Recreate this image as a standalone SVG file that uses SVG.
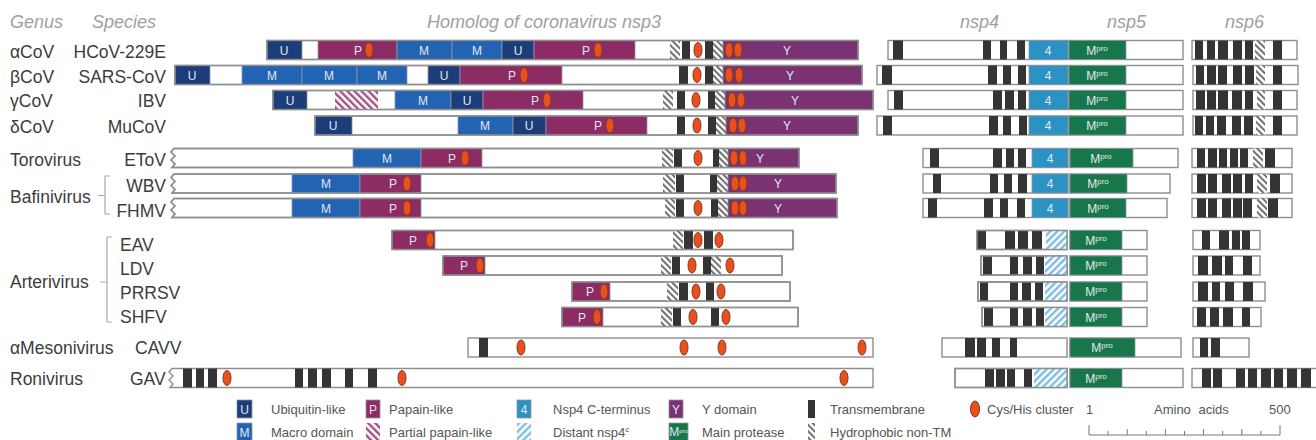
<svg xmlns="http://www.w3.org/2000/svg" width="1316" height="440" viewBox="0 0 1316 440">
<defs>
<pattern id="hg" width="4.5" height="4.5" patternUnits="userSpaceOnUse" patternTransform="rotate(-45)"><rect width="4.5" height="4.5" fill="#fff"/><rect width="2" height="4.5" fill="#6e6e6e"/></pattern>
<pattern id="hp" width="5" height="5" patternUnits="userSpaceOnUse" patternTransform="rotate(-45)"><rect width="5" height="5" fill="#fff"/><rect width="2.4" height="5" fill="#a64d80"/></pattern>
<pattern id="hb" width="5" height="5" patternUnits="userSpaceOnUse" patternTransform="rotate(45)"><rect width="5" height="5" fill="#fff"/><rect width="2.4" height="5" fill="#7dbce2"/></pattern>
</defs>
<style>
.bar{fill:#fff;stroke:#8e8e8e;stroke-width:1.4}
.ol{fill:none;stroke:#8e8e8e;stroke-width:1.4}
.d{stroke:#8f95a3;stroke-width:.8}
.U{fill:#1c3d7a}.M{fill:#2264b3}.P{fill:#8c2b64}.Y{fill:#7a3273}.F{fill:#2b93c4}.G{fill:#17774a}
.tm{fill:#343434}.hg{fill:url(#hg)}.hp{fill:url(#hp)}.hb{fill:url(#hb)}
.cy{fill:#ea4f1c;stroke:#7d3b22;stroke-width:1}
.dl{font-family:"Liberation Sans",Arial,sans-serif;font-size:12px;fill:#e4e7f0;text-anchor:middle}
.lab{font-family:"Liberation Sans",Arial,sans-serif;font-size:17.5px;fill:#3c3c3c}
.sp{text-anchor:end}
.hdr{font-family:"Liberation Sans",Arial,sans-serif;font-size:18px;font-style:italic;fill:#a0a0a0}
.leg{font-family:"Liberation Sans",Arial,sans-serif;font-size:13px;fill:#555}
.br{fill:none;stroke:#aaa;stroke-width:1.2}
</style>

<g id="headers">
<text class="hdr" x="10" y="28">Genus</text>
<text class="hdr" x="92" y="28">Species</text>
<text class="hdr" x="427" y="28">Homolog of coronavirus nsp3</text>
<text class="hdr" x="960" y="28">nsp4</text>
<text class="hdr" x="1107" y="28">nsp5</text>
<text class="hdr" x="1225" y="28">nsp6</text>
</g>

<g id="labels">
<text class="lab" x="10" y="58">αCoV</text><text class="lab sp" x="166" y="58">HCoV-229E</text>
<text class="lab" x="10" y="83">βCoV</text><text class="lab sp" x="166" y="83">SARS-CoV</text>
<text class="lab" x="10" y="107">γCoV</text><text class="lab sp" x="166" y="107">IBV</text>
<text class="lab" x="10" y="133">δCoV</text><text class="lab sp" x="166" y="133">MuCoV</text>
<text class="lab" x="10" y="166">Torovirus</text><text class="lab sp" x="166" y="166">EToV</text>
<text class="lab" x="10" y="203">Bafinivirus</text>
<text class="lab sp" x="166" y="192">WBV</text>
<text class="lab sp" x="166" y="217">FHMV</text>
<text class="lab" x="10" y="288">Arterivirus</text>
<text class="lab" x="120" y="251">EAV</text>
<text class="lab" x="120" y="275">LDV</text>
<text class="lab" x="120" y="299">PRRSV</text>
<text class="lab" x="120" y="323">SHFV</text>
<text class="lab" x="10" y="354">αMesonivirus</text><text class="lab" x="135" y="354">CAVV</text>
<text class="lab" x="10" y="385">Ronivirus</text><text class="lab" x="130" y="385">GAV</text>
</g>

<g id="connectors">
<path class="br" d="M110,176 H105 V214 H110 M98,195.5 H105"/>
<path class="br" d="M112,237 H107 V322 H112 M100,282 H107"/>
</g>

<g id="r-acov">
<rect class="bar" x="267" y="40.5" width="591" height="19"/>
<rect class="d U" x="267" y="40.5" width="35" height="19"/>
<rect class="d P" x="318" y="40.5" width="79" height="19"/>
<rect class="d M" x="397" y="40.5" width="55" height="19"/>
<rect class="d M" x="452" y="40.5" width="50" height="19"/>
<rect class="d U" x="502" y="40.5" width="32" height="19"/>
<rect class="d P" x="534" y="40.5" width="101" height="19"/>
<rect class="hg" x="670" y="40.5" width="10" height="19"/>
<rect class="tm" x="682" y="40.5" width="8" height="19"/>
<rect class="tm" x="705" y="40.5" width="8" height="19"/>
<rect class="hg" x="713" y="40.5" width="10" height="19"/>
<rect class="d Y" x="723" y="40.5" width="135" height="19"/>
<rect class="ol" x="267" y="40.5" width="591" height="19"/>
<ellipse class="cy" cx="369" cy="50" rx="4" ry="7.5"/><ellipse class="cy" cx="598" cy="50" rx="4" ry="7.5"/><ellipse class="cy" cx="698" cy="50" rx="4" ry="7.5"/><ellipse class="cy" cx="729" cy="50" rx="4" ry="7.5"/><ellipse class="cy" cx="738" cy="50" rx="4" ry="7.5"/>
<text class="dl" x="284" y="54.5">U</text><text class="dl" x="358" y="54.5">P</text><text class="dl" x="424" y="54.5">M</text><text class="dl" x="477" y="54.5">M</text><text class="dl" x="518" y="54.5">U</text><text class="dl" x="586" y="54.5">P</text><text class="dl" x="787" y="54.5">Y</text>
<rect class="bar" x="888" y="40.5" width="180" height="19"/>
<rect class="tm" x="893" y="40.5" width="10" height="19"/><rect class="tm" x="983" y="40.5" width="8" height="19"/><rect class="tm" x="1000" y="40.5" width="7" height="19"/><rect class="tm" x="1017" y="40.5" width="8" height="19"/>
<rect class="d F" x="1029" y="40.5" width="39" height="19"/><text class="dl" x="1048" y="54.5">4</text>
<rect class="bar" x="1069" y="40.5" width="114" height="19"/>
<rect class="d G" x="1069" y="40.5" width="57" height="19"/><text class="dl" x="1097" y="54.5">M<tspan font-size="8" dy="-4">pro</tspan></text>
<rect class="bar" x="1192" y="40.5" width="105" height="19"/>
<rect class="tm" x="1195" y="40.5" width="8" height="19"/><rect class="tm" x="1207" y="40.5" width="8" height="19"/><rect class="tm" x="1218" y="40.5" width="10" height="19"/><rect class="tm" x="1233" y="40.5" width="9" height="19"/><rect class="tm" x="1245" y="40.5" width="8" height="19"/><rect class="hg" x="1255" y="40.5" width="10" height="19"/><rect class="tm" x="1273" y="40.5" width="9" height="19"/>
</g>

<g id="r-bcov">
<rect class="bar" x="175" y="65.5" width="687" height="19"/>
<rect class="d U" x="175" y="65.5" width="35" height="19"/>
<rect class="d M" x="242" y="65.5" width="60" height="19"/>
<rect class="d M" x="302" y="65.5" width="55" height="19"/>
<rect class="d M" x="357" y="65.5" width="50" height="19"/>
<rect class="d U" x="428" y="65.5" width="32" height="19"/>
<rect class="d P" x="460" y="65.5" width="102" height="19"/>
<rect class="tm" x="679" y="65.5" width="9" height="19"/>
<rect class="tm" x="705" y="65.5" width="8" height="19"/>
<rect class="hg" x="713" y="65.5" width="10" height="19"/>
<rect class="d Y" x="723" y="65.5" width="139" height="19"/>
<rect class="ol" x="175" y="65.5" width="687" height="19"/>
<ellipse class="cy" cx="524" cy="75" rx="4" ry="7.5"/><ellipse class="cy" cx="697" cy="75" rx="4" ry="7.5"/><ellipse class="cy" cx="729" cy="75" rx="4" ry="7.5"/><ellipse class="cy" cx="739" cy="75" rx="4" ry="7.5"/>
<text class="dl" x="192" y="79.5">U</text><text class="dl" x="272" y="79.5">M</text><text class="dl" x="329" y="79.5">M</text><text class="dl" x="382" y="79.5">M</text><text class="dl" x="444" y="79.5">U</text><text class="dl" x="512" y="79.5">P</text><text class="dl" x="790" y="79.5">Y</text>
<rect class="bar" x="877" y="65.5" width="191" height="19"/>
<rect class="tm" x="882" y="65.5" width="10" height="19"/><rect class="tm" x="988" y="65.5" width="9" height="19"/><rect class="tm" x="1003" y="65.5" width="8" height="19"/><rect class="tm" x="1018" y="65.5" width="8" height="19"/>
<rect class="d F" x="1029" y="65.5" width="39" height="19"/><text class="dl" x="1048" y="79.5">4</text>
<rect class="bar" x="1069" y="65.5" width="114" height="19"/>
<rect class="d G" x="1069" y="65.5" width="57" height="19"/><text class="dl" x="1097" y="79.5">M<tspan font-size="8" dy="-4">pro</tspan></text>
<rect class="bar" x="1193" y="65.5" width="105" height="19"/>
<rect class="tm" x="1196" y="65.5" width="8" height="19"/><rect class="tm" x="1207" y="65.5" width="9" height="19"/><rect class="tm" x="1218" y="65.5" width="9" height="19"/><rect class="tm" x="1233" y="65.5" width="9" height="19"/><rect class="tm" x="1245" y="65.5" width="9" height="19"/><rect class="hg" x="1256" y="65.5" width="9" height="19"/><rect class="tm" x="1273" y="65.5" width="9" height="19"/>
</g>

<g id="r-gcov">
<rect class="bar" x="273" y="90.5" width="600" height="19"/>
<rect class="d U" x="273" y="90.5" width="34" height="19"/>
<rect class="hp" x="335" y="90.5" width="43" height="19"/>
<rect class="d M" x="395" y="90.5" width="56" height="19"/>
<rect class="d U" x="451" y="90.5" width="32" height="19"/>
<rect class="d P" x="483" y="90.5" width="100" height="19"/>
<rect class="hg" x="663" y="90.5" width="10" height="19"/>
<rect class="tm" x="677" y="90.5" width="8" height="19"/>
<rect class="tm" x="708" y="90.5" width="7" height="19"/>
<rect class="hg" x="715" y="90.5" width="10" height="19"/>
<rect class="d Y" x="725" y="90.5" width="148" height="19"/>
<rect class="ol" x="273" y="90.5" width="600" height="19"/>
<ellipse class="cy" cx="547" cy="100" rx="4" ry="7.5"/><ellipse class="cy" cx="696" cy="100" rx="4" ry="7.5"/><ellipse class="cy" cx="732" cy="100" rx="4" ry="7.5"/><ellipse class="cy" cx="741" cy="100" rx="4" ry="7.5"/>
<text class="dl" x="290" y="104.5">U</text><text class="dl" x="423" y="104.5">M</text><text class="dl" x="467" y="104.5">U</text><text class="dl" x="535" y="104.5">P</text><text class="dl" x="795" y="104.5">Y</text>
<rect class="bar" x="888" y="90.5" width="180" height="19"/>
<rect class="tm" x="894" y="90.5" width="9" height="19"/><rect class="tm" x="993" y="90.5" width="9" height="19"/><rect class="tm" x="1005" y="90.5" width="9" height="19"/><rect class="tm" x="1018" y="90.5" width="8" height="19"/>
<rect class="d F" x="1029" y="90.5" width="39" height="19"/><text class="dl" x="1048" y="104.5">4</text>
<rect class="bar" x="1069" y="90.5" width="114" height="19"/>
<rect class="d G" x="1069" y="90.5" width="57" height="19"/><text class="dl" x="1097" y="104.5">M<tspan font-size="8" dy="-4">pro</tspan></text>
<rect class="bar" x="1193" y="90.5" width="104" height="19"/>
<rect class="tm" x="1196" y="90.5" width="9" height="19"/><rect class="tm" x="1207" y="90.5" width="9" height="19"/><rect class="tm" x="1218" y="90.5" width="10" height="19"/><rect class="tm" x="1232" y="90.5" width="10" height="19"/><rect class="tm" x="1245" y="90.5" width="8" height="19"/><rect class="hg" x="1257" y="90.5" width="8" height="19"/><rect class="tm" x="1273" y="90.5" width="9" height="19"/>
</g>

<g id="r-dcov">
<rect class="bar" x="315" y="116" width="543" height="19"/>
<rect class="d U" x="315" y="116" width="37" height="19"/>
<rect class="d M" x="458" y="116" width="55" height="19"/>
<rect class="d U" x="513" y="116" width="33" height="19"/>
<rect class="d P" x="546" y="116" width="101" height="19"/>
<rect class="tm" x="677" y="116" width="8" height="19"/>
<rect class="tm" x="708" y="116" width="8" height="19"/>
<rect class="hg" x="716" y="116" width="10" height="19"/>
<rect class="d Y" x="726" y="116" width="132" height="19"/>
<rect class="ol" x="315" y="116" width="543" height="19"/>
<ellipse class="cy" cx="610" cy="125.5" rx="4" ry="7.5"/><ellipse class="cy" cx="697" cy="125.5" rx="4" ry="7.5"/><ellipse class="cy" cx="733" cy="125.5" rx="4" ry="7.5"/><ellipse class="cy" cx="742" cy="125.5" rx="4" ry="7.5"/>
<text class="dl" x="333" y="130">U</text><text class="dl" x="485" y="130">M</text><text class="dl" x="529" y="130">U</text><text class="dl" x="598" y="130">P</text><text class="dl" x="787" y="130">Y</text>
<rect class="bar" x="877" y="116" width="191" height="19"/>
<rect class="tm" x="883" y="116" width="9" height="19"/><rect class="tm" x="989" y="116" width="9" height="19"/><rect class="tm" x="1003" y="116" width="8" height="19"/><rect class="tm" x="1019" y="116" width="8" height="19"/>
<rect class="d F" x="1029" y="116" width="39" height="19"/><text class="dl" x="1048" y="130">4</text>
<rect class="bar" x="1069" y="116" width="114" height="19"/>
<rect class="d G" x="1069" y="116" width="57" height="19"/><text class="dl" x="1097" y="130">M<tspan font-size="8" dy="-4">pro</tspan></text>
<rect class="bar" x="1193" y="116" width="104" height="19"/>
<rect class="tm" x="1195" y="116" width="8" height="19"/><rect class="tm" x="1206" y="116" width="8" height="19"/><rect class="tm" x="1217" y="116" width="9" height="19"/><rect class="tm" x="1232" y="116" width="9" height="19"/><rect class="tm" x="1244" y="116" width="9" height="19"/><rect class="hg" x="1256" y="116" width="9" height="19"/><rect class="tm" x="1273" y="116" width="9" height="19"/>
</g>

<g id="r-etov">
<path class="bar" d="M799,148.5 H174 L171,152 L175,156 L171,160 L175,164 L172,167.5 H799 Z"/>
<rect class="d M" x="353" y="148.5" width="68" height="19"/>
<rect class="d P" x="421" y="148.5" width="61" height="19"/>
<rect class="hg" x="662" y="148.5" width="11" height="19"/>
<rect class="tm" x="674" y="148.5" width="8" height="19"/>
<rect class="tm" x="713" y="148.5" width="6" height="19"/>
<rect class="hg" x="719" y="148.5" width="9" height="19"/>
<rect class="d Y" x="728" y="148.5" width="71" height="19"/>
<path class="ol" d="M799,148.5 H174 L171,152 L175,156 L171,160 L175,164 L172,167.5 H799 Z"/>
<ellipse class="cy" cx="465" cy="158" rx="4" ry="7.5"/><ellipse class="cy" cx="698" cy="158" rx="4" ry="7.5"/><ellipse class="cy" cx="734" cy="158" rx="4" ry="7.5"/><ellipse class="cy" cx="743" cy="158" rx="4" ry="7.5"/>
<text class="dl" x="387" y="162.5">M</text><text class="dl" x="452" y="162.5">P</text><text class="dl" x="760" y="162.5">Y</text>
<rect class="bar" x="923" y="148.5" width="145" height="19"/>
<rect class="tm" x="930" y="148.5" width="9" height="19"/><rect class="tm" x="993" y="148.5" width="9" height="19"/><rect class="tm" x="1006" y="148.5" width="8" height="19"/><rect class="tm" x="1018" y="148.5" width="8" height="19"/>
<rect class="d F" x="1032" y="148.5" width="36" height="19"/><text class="dl" x="1050" y="162.5">4</text>
<rect class="bar" x="1070" y="148.5" width="108" height="19"/>
<rect class="d G" x="1070" y="148.5" width="63" height="19"/><text class="dl" x="1101" y="162.5">M<tspan font-size="8" dy="-4">pro</tspan></text>
<rect class="bar" x="1192" y="148.5" width="100" height="19"/>
<rect class="tm" x="1197" y="148.5" width="8" height="19"/><rect class="tm" x="1208" y="148.5" width="9" height="19"/><rect class="tm" x="1219" y="148.5" width="8" height="19"/><rect class="tm" x="1230" y="148.5" width="8" height="19"/><rect class="tm" x="1240" y="148.5" width="8" height="19"/><rect class="hg" x="1253" y="148.5" width="10" height="19"/><rect class="tm" x="1265" y="148.5" width="10" height="19"/>
</g>

<g id="r-wbv">
<path class="bar" d="M836,174 H174 L171,177.5 L175,181.5 L171,185.5 L175,189.5 L172,193 H836 Z"/>
<rect class="d M" x="292" y="174" width="68" height="19"/>
<rect class="d P" x="360" y="174" width="61" height="19"/>
<rect class="hg" x="663" y="174" width="12" height="19"/>
<rect class="tm" x="676" y="174" width="8" height="19"/>
<rect class="tm" x="710" y="174" width="7" height="19"/>
<rect class="hg" x="717" y="174" width="11" height="19"/>
<rect class="d Y" x="728" y="174" width="108" height="19"/>
<path class="ol" d="M836,174 H174 L171,177.5 L175,181.5 L171,185.5 L175,189.5 L172,193 H836 Z"/>
<ellipse class="cy" cx="407" cy="183.5" rx="4" ry="7.5"/><ellipse class="cy" cx="735" cy="183.5" rx="4" ry="7.5"/><ellipse class="cy" cx="743" cy="183.5" rx="4" ry="7.5"/>
<text class="dl" x="326" y="188">M</text><text class="dl" x="393" y="188">P</text><text class="dl" x="778" y="188">Y</text>
<rect class="bar" x="923" y="174" width="145" height="19"/>
<rect class="tm" x="933" y="174" width="8" height="19"/><rect class="tm" x="990" y="174" width="8" height="19"/><rect class="tm" x="1004" y="174" width="8" height="19"/><rect class="tm" x="1018" y="174" width="9" height="19"/>
<rect class="d F" x="1032" y="174" width="36" height="19"/><text class="dl" x="1050" y="188">4</text>
<rect class="bar" x="1070" y="174" width="100" height="19"/>
<rect class="d G" x="1070" y="174" width="57" height="19"/><text class="dl" x="1098" y="188">M<tspan font-size="8" dy="-4">pro</tspan></text>
<rect class="bar" x="1192" y="174" width="100" height="19"/>
<rect class="tm" x="1197" y="174" width="9" height="19"/><rect class="tm" x="1208" y="174" width="9" height="19"/><rect class="tm" x="1222" y="174" width="9" height="19"/><rect class="tm" x="1233" y="174" width="9" height="19"/><rect class="tm" x="1245" y="174" width="8" height="19"/><rect class="hg" x="1257" y="174" width="10" height="19"/><rect class="tm" x="1270" y="174" width="10" height="19"/>
</g>

<g id="r-fhmv">
<path class="bar" d="M837,198.5 H174 L171,202 L175,206 L171,210 L175,214 L172,217.5 H837 Z"/>
<rect class="d M" x="292" y="198.5" width="68" height="19"/>
<rect class="d P" x="360" y="198.5" width="61" height="19"/>
<rect class="hg" x="665" y="198.5" width="10" height="19"/>
<rect class="tm" x="676" y="198.5" width="8" height="19"/>
<rect class="tm" x="711" y="198.5" width="7" height="19"/>
<rect class="hg" x="718" y="198.5" width="10" height="19"/>
<rect class="d Y" x="728" y="198.5" width="109" height="19"/>
<path class="ol" d="M837,198.5 H174 L171,202 L175,206 L171,210 L175,214 L172,217.5 H837 Z"/>
<ellipse class="cy" cx="407" cy="208" rx="4" ry="7.5"/><ellipse class="cy" cx="698" cy="208" rx="4" ry="7.5"/><ellipse class="cy" cx="735" cy="208" rx="4" ry="7.5"/><ellipse class="cy" cx="743" cy="208" rx="4" ry="7.5"/>
<text class="dl" x="326" y="212.5">M</text><text class="dl" x="393" y="212.5">P</text><text class="dl" x="778" y="212.5">Y</text>
<rect class="bar" x="923" y="198.5" width="145" height="19"/>
<rect class="tm" x="928" y="198.5" width="9" height="19"/><rect class="tm" x="984" y="198.5" width="9" height="19"/><rect class="tm" x="1000" y="198.5" width="8" height="19"/><rect class="tm" x="1017" y="198.5" width="8" height="19"/>
<rect class="d F" x="1032" y="198.5" width="36" height="19"/><text class="dl" x="1050" y="212.5">4</text>
<rect class="bar" x="1070" y="198.5" width="97" height="19"/>
<rect class="d G" x="1070" y="198.5" width="56" height="19"/><text class="dl" x="1098" y="212.5">M<tspan font-size="8" dy="-4">pro</tspan></text>
<rect class="bar" x="1192" y="198.5" width="100" height="19"/>
<rect class="tm" x="1197" y="198.5" width="9" height="19"/><rect class="tm" x="1208" y="198.5" width="9" height="19"/><rect class="tm" x="1222" y="198.5" width="9" height="19"/><rect class="tm" x="1233" y="198.5" width="9" height="19"/><rect class="tm" x="1243" y="198.5" width="9" height="19"/><rect class="hg" x="1257" y="198.5" width="10" height="19"/><rect class="tm" x="1268" y="198.5" width="10" height="19"/>
</g>

<g id="r-eav">
<rect class="bar" x="392" y="230.5" width="401" height="19"/>
<rect class="d P" x="392" y="230.5" width="43" height="19"/>
<rect class="hg" x="673" y="230.5" width="10" height="19"/>
<rect class="tm" x="684" y="230.5" width="9" height="19"/>
<rect class="tm" x="704" y="230.5" width="9" height="19"/>
<rect class="ol" x="392" y="230.5" width="401" height="19"/>
<ellipse class="cy" cx="430" cy="240" rx="4" ry="7.5"/><ellipse class="cy" cx="698" cy="240" rx="4" ry="7.5"/><ellipse class="cy" cx="719" cy="240" rx="4" ry="7.5"/>
<text class="dl" x="413" y="244.5">P</text>
<rect class="bar" x="977" y="230.5" width="90" height="19"/>
<rect class="tm" x="977" y="230.5" width="9" height="19"/><rect class="tm" x="1005" y="230.5" width="10" height="19"/><rect class="tm" x="1018" y="230.5" width="10" height="19"/><rect class="tm" x="1032" y="230.5" width="10" height="19"/>
<rect class="hb" x="1046" y="230.5" width="21" height="19"/>
<rect class="ol" x="977" y="230.5" width="90" height="19"/>
<rect class="bar" x="1070" y="230.5" width="77" height="19"/>
<rect class="d G" x="1070" y="230.5" width="52" height="19"/><text class="dl" x="1096" y="244.5">M<tspan font-size="8" dy="-4">pro</tspan></text>
<rect class="bar" x="1193" y="230.5" width="67" height="19"/>
<rect class="tm" x="1202" y="230.5" width="8" height="19"/><rect class="tm" x="1219" y="230.5" width="10" height="19"/><rect class="tm" x="1232" y="230.5" width="8" height="19"/><rect class="tm" x="1242" y="230.5" width="8" height="19"/>
</g>

<g id="r-ldv">
<rect class="bar" x="443" y="256" width="339" height="19"/>
<rect class="d P" x="443" y="256" width="42" height="19"/>
<rect class="hg" x="661" y="256" width="10" height="19"/>
<rect class="tm" x="672" y="256" width="8" height="19"/>
<rect class="tm" x="703" y="256" width="8" height="19"/>
<rect class="hg" x="711" y="256" width="10" height="19"/>
<rect class="ol" x="443" y="256" width="339" height="19"/>
<ellipse class="cy" cx="480" cy="265.5" rx="4" ry="7.5"/><ellipse class="cy" cx="692" cy="265.5" rx="4" ry="7.5"/><ellipse class="cy" cx="730" cy="265.5" rx="4" ry="7.5"/>
<text class="dl" x="464" y="270">P</text>
<rect class="bar" x="981" y="256" width="86" height="19"/>
<rect class="tm" x="983" y="256" width="9" height="19"/><rect class="tm" x="1010" y="256" width="8" height="19"/><rect class="tm" x="1023" y="256" width="9" height="19"/><rect class="tm" x="1036" y="256" width="8" height="19"/>
<rect class="hb" x="1045" y="256" width="22" height="19"/>
<rect class="ol" x="981" y="256" width="86" height="19"/>
<rect class="bar" x="1070" y="256" width="77" height="19"/>
<rect class="d G" x="1070" y="256" width="52" height="19"/><text class="dl" x="1096" y="270">M<tspan font-size="8" dy="-4">pro</tspan></text>
<rect class="bar" x="1193" y="256" width="67" height="19"/>
<rect class="tm" x="1198" y="256" width="10" height="19"/><rect class="tm" x="1212" y="256" width="10" height="19"/><rect class="tm" x="1225" y="256" width="8" height="19"/><rect class="tm" x="1243" y="256" width="9" height="19"/>
</g>

<g id="r-prrsv">
<rect class="bar" x="572" y="282" width="218" height="19"/>
<rect class="d P" x="572" y="282" width="38" height="19"/>
<rect class="hg" x="667" y="282" width="11" height="19"/>
<rect class="tm" x="679" y="282" width="9" height="19"/>
<rect class="tm" x="706" y="282" width="8" height="19"/>
<rect class="ol" x="572" y="282" width="218" height="19"/>
<ellipse class="cy" cx="604" cy="291.5" rx="4" ry="7.5"/><ellipse class="cy" cx="696" cy="291.5" rx="4" ry="7.5"/><ellipse class="cy" cx="721" cy="291.5" rx="4" ry="7.5"/>
<text class="dl" x="590" y="296">P</text>
<rect class="bar" x="978" y="282" width="89" height="19"/>
<rect class="tm" x="980" y="282" width="8" height="19"/><rect class="tm" x="1010" y="282" width="8" height="19"/><rect class="tm" x="1022" y="282" width="9" height="19"/><rect class="tm" x="1035" y="282" width="8" height="19"/>
<rect class="hb" x="1045" y="282" width="22" height="19"/>
<rect class="ol" x="978" y="282" width="89" height="19"/>
<rect class="bar" x="1070" y="282" width="77" height="19"/>
<rect class="d G" x="1070" y="282" width="52" height="19"/><text class="dl" x="1096" y="296">M<tspan font-size="8" dy="-4">pro</tspan></text>
<rect class="bar" x="1193" y="282" width="72" height="19"/>
<rect class="tm" x="1198" y="282" width="10" height="19"/><rect class="tm" x="1212" y="282" width="8" height="19"/><rect class="tm" x="1225" y="282" width="9" height="19"/><rect class="tm" x="1243" y="282" width="10" height="19"/>
</g>

<g id="r-shfv">
<rect class="bar" x="562" y="307.5" width="236" height="19"/>
<rect class="d P" x="562" y="307.5" width="41" height="19"/>
<rect class="hg" x="661" y="307.5" width="11" height="19"/>
<rect class="tm" x="673" y="307.5" width="8" height="19"/>
<rect class="tm" x="711" y="307.5" width="8" height="19"/>
<rect class="ol" x="562" y="307.5" width="236" height="19"/>
<ellipse class="cy" cx="597" cy="317" rx="4" ry="7.5"/><ellipse class="cy" cx="693" cy="317" rx="4" ry="7.5"/><ellipse class="cy" cx="726" cy="317" rx="4" ry="7.5"/>
<text class="dl" x="582" y="321.5">P</text>
<rect class="bar" x="982" y="307.5" width="85" height="19"/>
<rect class="tm" x="984" y="307.5" width="9" height="19"/><rect class="tm" x="1010" y="307.5" width="8" height="19"/><rect class="tm" x="1023" y="307.5" width="9" height="19"/><rect class="tm" x="1036" y="307.5" width="8" height="19"/>
<rect class="hb" x="1045" y="307.5" width="22" height="19"/>
<rect class="ol" x="982" y="307.5" width="85" height="19"/>
<rect class="bar" x="1070" y="307.5" width="77" height="19"/>
<rect class="d G" x="1070" y="307.5" width="52" height="19"/><text class="dl" x="1096" y="321.5">M<tspan font-size="8" dy="-4">pro</tspan></text>
<rect class="bar" x="1193" y="307.5" width="68" height="19"/>
<rect class="tm" x="1197" y="307.5" width="9" height="19"/><rect class="tm" x="1210" y="307.5" width="9" height="19"/><rect class="tm" x="1223" y="307.5" width="10" height="19"/><rect class="tm" x="1242" y="307.5" width="8" height="19"/>
</g>

<g id="r-cavv">
<rect class="bar" x="468" y="338" width="405" height="19"/>
<rect class="tm" x="479" y="338" width="9" height="19"/>
<ellipse class="cy" cx="521" cy="347.5" rx="4" ry="7.5"/><ellipse class="cy" cx="684" cy="347.5" rx="4" ry="7.5"/><ellipse class="cy" cx="722" cy="347.5" rx="4" ry="7.5"/><ellipse class="cy" cx="862" cy="347.5" rx="4" ry="7.5"/>
<rect class="bar" x="942" y="338" width="125" height="19"/>
<rect class="tm" x="965" y="338" width="10" height="19"/><rect class="tm" x="977" y="338" width="9" height="19"/><rect class="tm" x="992" y="338" width="8" height="19"/><rect class="tm" x="1010" y="338" width="7" height="19"/>
<rect class="bar" x="1070" y="338" width="111" height="19"/>
<rect class="d G" x="1070" y="338" width="65" height="19"/><text class="dl" x="1102" y="352">M<tspan font-size="8" dy="-4">pro</tspan></text>
<rect class="bar" x="1193" y="338" width="56" height="19"/>
<rect class="tm" x="1200" y="338" width="8" height="19"/><rect class="tm" x="1211" y="338" width="9" height="19"/>
</g>

<g id="r-gav">
<path class="bar" d="M873,368.5 H172 L169,372 L173,376 L169,380 L173,384 L170,387.5 H873 Z"/>
<rect class="tm" x="183" y="368.5" width="9" height="19"/><rect class="tm" x="196" y="368.5" width="8" height="19"/><rect class="tm" x="208" y="368.5" width="9" height="19"/>
<rect class="tm" x="295" y="368.5" width="8" height="19"/><rect class="tm" x="308" y="368.5" width="9" height="19"/><rect class="tm" x="322" y="368.5" width="9" height="19"/><rect class="tm" x="345" y="368.5" width="8" height="19"/><rect class="tm" x="368" y="368.5" width="9" height="19"/>
<ellipse class="cy" cx="227" cy="378" rx="4" ry="7.5"/><ellipse class="cy" cx="402" cy="378" rx="4" ry="7.5"/><ellipse class="cy" cx="844" cy="378" rx="4" ry="7.5"/>
<rect class="bar" x="955" y="368.5" width="112" height="19"/>
<rect class="tm" x="985" y="368.5" width="9" height="19"/><rect class="tm" x="996" y="368.5" width="9" height="19"/><rect class="tm" x="1007" y="368.5" width="8" height="19"/><rect class="tm" x="1024" y="368.5" width="8" height="19"/>
<rect class="hb" x="1034" y="368.5" width="33" height="19"/>
<rect class="ol" x="955" y="368.5" width="112" height="19"/>
<rect class="bar" x="1070" y="368.5" width="113" height="19"/>
<rect class="d G" x="1070" y="368.5" width="52" height="19"/><text class="dl" x="1096" y="382.5">M<tspan font-size="8" dy="-4">pro</tspan></text>
<rect class="bar" x="1192" y="368.5" width="130" height="19"/>
<rect class="tm" x="1202" y="368.5" width="9" height="19"/><rect class="tm" x="1213" y="368.5" width="9" height="19"/><rect class="tm" x="1236" y="368.5" width="9" height="19"/><rect class="tm" x="1248" y="368.5" width="9" height="19"/><rect class="tm" x="1261" y="368.5" width="10" height="19"/><rect class="tm" x="1274" y="368.5" width="9" height="19"/><rect class="tm" x="1287" y="368.5" width="10" height="19"/><rect class="tm" x="1301" y="368.5" width="10" height="19"/>
</g>

<g id="legend">
<rect class="d U" x="237" y="400" width="15" height="18"/><text class="dl" x="244.5" y="413.5">U</text>
<rect class="d M" x="237" y="423" width="15" height="18"/><text class="dl" x="244.5" y="436.5">M</text>
<text class="leg" x="271" y="414">Ubiquitin-like</text>
<text class="leg" x="271" y="437">Macro domain</text>
<rect class="d P" x="366" y="400" width="14" height="18"/><text class="dl" x="373" y="413.5">P</text>
<rect class="hp" x="366" y="423" width="14" height="18"/>
<text class="leg" x="389" y="414">Papain-like</text>
<text class="leg" x="389" y="437">Partial papain-like</text>
<rect class="d F" x="517" y="400" width="14" height="18"/><text class="dl" x="524" y="413.5">4</text>
<rect class="hb" x="517" y="423" width="14" height="18"/>
<text class="leg" x="553" y="414">Nsp4 C-terminus</text>
<text class="leg" x="553" y="437">Distant nsp4<tspan font-size="8" dy="-5">c</tspan></text>
<rect class="d Y" x="669" y="400" width="14" height="18"/><text class="dl" x="676" y="413.5">Y</text>
<rect class="d G" x="669" y="423" width="19" height="18"/><text class="dl" x="678.5" y="436" font-size="9">M<tspan font-size="6" dy="-3">pro</tspan></text>
<text class="leg" x="702" y="414">Y domain</text>
<text class="leg" x="702" y="437">Main protease</text>
<rect class="tm" x="808" y="400" width="7" height="18"/>
<rect class="hg" x="808" y="423" width="7" height="18"/>
<text class="leg" x="830" y="414">Transmembrane</text>
<text class="leg" x="830" y="437">Hydrophobic non-TM</text>
<ellipse class="cy" cx="975" cy="409" rx="4.5" ry="8"/>
<text class="leg" x="987" y="414">Cys/His cluster</text>
<text class="leg" x="1086" y="414">1</text>
<text class="leg" x="1154" y="414" word-spacing="4">Amino acids</text>
<text class="leg" x="1269" y="414">500</text>
<path fill="none" stroke="#777" stroke-width="1" d="M1089,435 H1280 M1089,425 V435 M1280,425 V435 M1108.1,431 V435 M1127.2,429 V435 M1146.3,431 V435 M1165.4,429 V435 M1184.5,431 V435 M1203.6,429 V435 M1222.7,431 V435 M1241.8,429 V435 M1260.9,431 V435"/>
</g>
</svg>
